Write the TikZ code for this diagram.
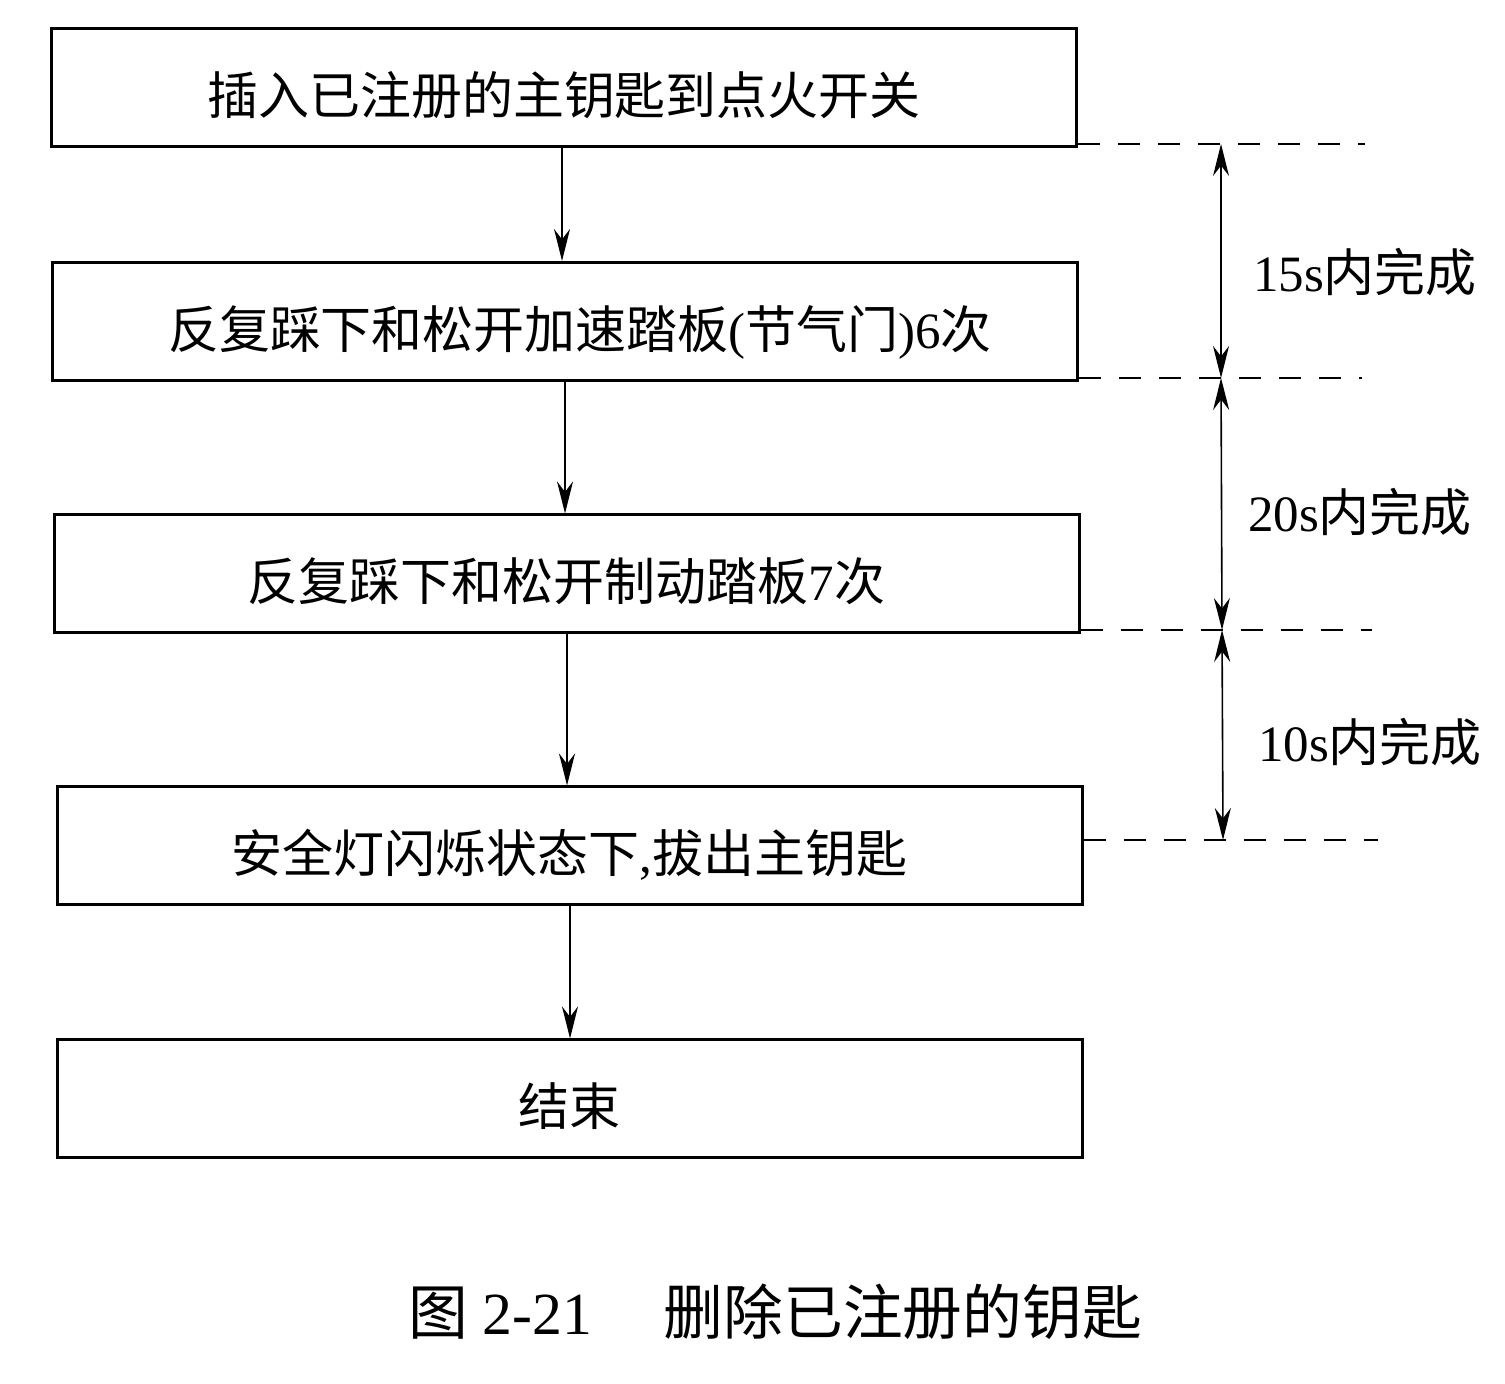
\documentclass[tikz,border=0pt]{standalone}
\usepackage{fontspec}
\setmainfont{Liberation Serif}
\newfontfamily\cjk{Noto Sans CJK SC}
\usetikzlibrary{arrows.meta}
\tikzset{
  stepbox/.style={draw,line width=0.03cm,minimum width=10.25cm,minimum height=1.18cm,
    inner sep=0pt,text height=0.64cm,text depth=0.1cm,font=\fontsize{14.5}{17}\selectfont},
  flow/.style={line width=0.016cm,-{Stealth[length=3.2mm,width=1.6mm]}},
  guide/.style={line width=0.016cm,dashed,dash pattern=on 2.2mm off 1.8mm},
  span/.style={line width=0.016cm,{Stealth[length=3.2mm,width=1.6mm]}-{Stealth[length=3.2mm,width=1.6mm]}},
  timelabel/.style={font=\fontsize{14.5}{17}\selectfont}
}
\begin{document}
\begin{tikzpicture}
\useasboundingbox (0,0) rectangle (15.05,13.84);

% Drawing the five step boxes
\node[stepbox] (insert) at (5.64,12.96) {{\cjk 插入已注册的主钥匙到点火开关}};
\node[stepbox] (gas) at (5.65,10.625) {\hspace{0.3cm}{\cjk 反复踩下和松开加速踏板}({\cjk 节气门})6{\cjk 次}};
\node[stepbox] (brake) at (5.665,8.10) {{\cjk 反复踩下和松开制动踏板}7{\cjk 次}};
\node[stepbox] (pull) at (5.695,5.38) {{\cjk 安全灯闪烁状态下},{\cjk 拔出主钥匙}};
\node[stepbox] (finish) at (5.695,2.85) {{\cjk 结束}};

% Drawing arrows between the steps
\draw[flow] (insert.south -| 5.62,0) -- (gas.north -| 5.62,0);
\draw[flow] (gas.south -| 5.65,0) -- (brake.north -| 5.65,0);
\draw[flow] (brake.south -| 5.67,0) -- (pull.north -| 5.67,0);
\draw[flow] (pull.south -| 5.70,0) -- (finish.north -| 5.70,0);

% Drawing dashed time marks
\coordinate (m1) at (13.65,12.40);
\coordinate (m2) at (13.62,10.06);
\coordinate (m3) at (13.72,7.54);
\coordinate (m4) at (13.78,5.44);
\draw[guide] (insert.east |- m1) -- (m1);
\draw[guide] (gas.east |- m2) -- (m2);
\draw[guide] (brake.east |- m3) -- (m3);
\draw[guide] (pull.east |- m4) -- (m4);

% Drawing time spans
\coordinate (t1) at (12.21,12.40);
\coordinate (t2) at (12.21,10.06);
\coordinate (t3) at (12.22,7.54);
\coordinate (t4) at (12.23,5.44);
\draw[span] (t1) -- (t2);
\draw[span] (t2) -- (t3);
\draw[span] (t3) -- (t4);
\node[timelabel] (span1) at (13.65,11.12) {15s{\cjk 内完成}};
\node[timelabel] (span2) at (13.60,8.72) {20s{\cjk 内完成}};
\node[timelabel] (span3) at (13.70,6.42) {10s{\cjk 内完成}};

% Caption
\node[font=\fontsize{17}{20}\selectfont] (caption) at (7.75,0.72)
  {{\cjk 图} 2-21\hspace{1.2em}{\cjk 删除已注册的钥匙}};
\end{tikzpicture}
\end{document}
